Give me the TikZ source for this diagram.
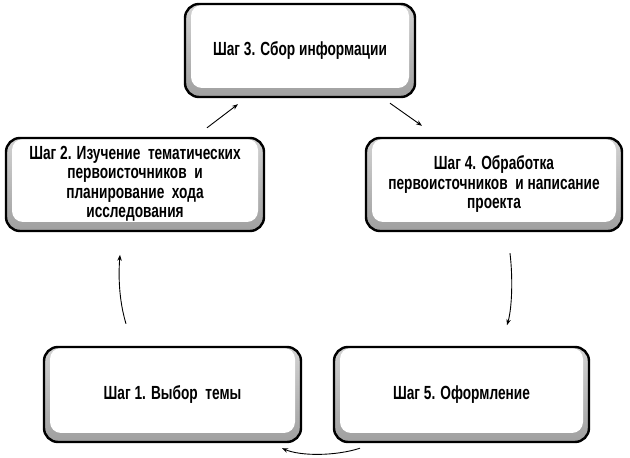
\documentclass[tikz,border=0pt]{standalone}
\usepackage{fontspec}
\newfontfamily\condfont[FakeStretch=0.72]{Liberation Sans}
\usetikzlibrary{arrows.meta}
\tikzset{
  stepbox/.style={draw=black, line width=2.4pt, rounded corners=14pt, align=center,
    inner sep=0pt, font=\condfont\bfseries\fontsize{19}{19.5}\selectfont,
    path picture={
      \shade[top color=gray!35, bottom color=gray!75]
        (path picture bounding box.south west) rectangle (path picture bounding box.north east);
      \fill[white, rounded corners=11pt]
        ([xshift=6pt,yshift=9pt]path picture bounding box.south west) rectangle
        ([xshift=-6pt,yshift=-1pt]path picture bounding box.north east);
    }},
  flow/.style={line width=0.9pt, -{Stealth[length=6pt,width=4.5pt]}}
}
\begin{document}
\begin{tikzpicture}[x=1pt,y=1pt]
\useasboundingbox (0,0) rectangle (630,458);
\node[stepbox, minimum width=230, minimum height=93] (b3) at (300,407.5) {Шаг 3. Сбор информации};
\node[stepbox, minimum width=258, minimum height=93] (b2) at ({135},273.5) {\raisebox{0pt}[0pt][0pt]{}Шаг 2. Изучение\ \ тематических\\первоисточников\ \ и\\планирование\ \ хода\\исследования\rule[-5pt]{0pt}{0pt}};
\node[stepbox, minimum width=256, minimum height=93] (b4) at (494,273.5) {Шаг 4. Обработка\\первоисточников\ \ и написание\\проекта};
\node[stepbox, minimum width=257, minimum height=95] (b1) at (172.5,63.5) {Шаг 1. Выбор\ \ темы};
\node[stepbox, minimum width=255, minimum height=95] (b5) at (461.5,63.5) {Шаг 5. Оформление};
% connectors
\draw[flow] ([shift={(-46.5,22)}]b1.north) .. controls ([shift={(-54,47)}]b1.north) and ([shift={(-54,72)}]b1.north) .. ([shift={(-52.5,91)}]b1.north);
\draw[flow] ([shift={(72,9)}]b2.north) -- ([shift={(-62,-6)}]b3.south);
\draw[flow] ([shift={(90,-5)}]b3.south) -- ([shift={(-72,11)}]b4.north);
\draw[flow] ([shift={(16,-21)}]b4.south) .. controls ([shift={(19,-46)}]b4.south) and ([shift={(18,-76)}]b4.south) .. ([shift={(13,-93)}]b4.south);
\draw[flow] ([shift={(-101.5,-5)}]b5.south) .. controls ([shift={(-126,-13)}]b5.south) and ([shift={(-161,-13)}]b5.south) .. ([shift={(-179.5,-5)}]b5.south);
\end{tikzpicture}
\end{document}
